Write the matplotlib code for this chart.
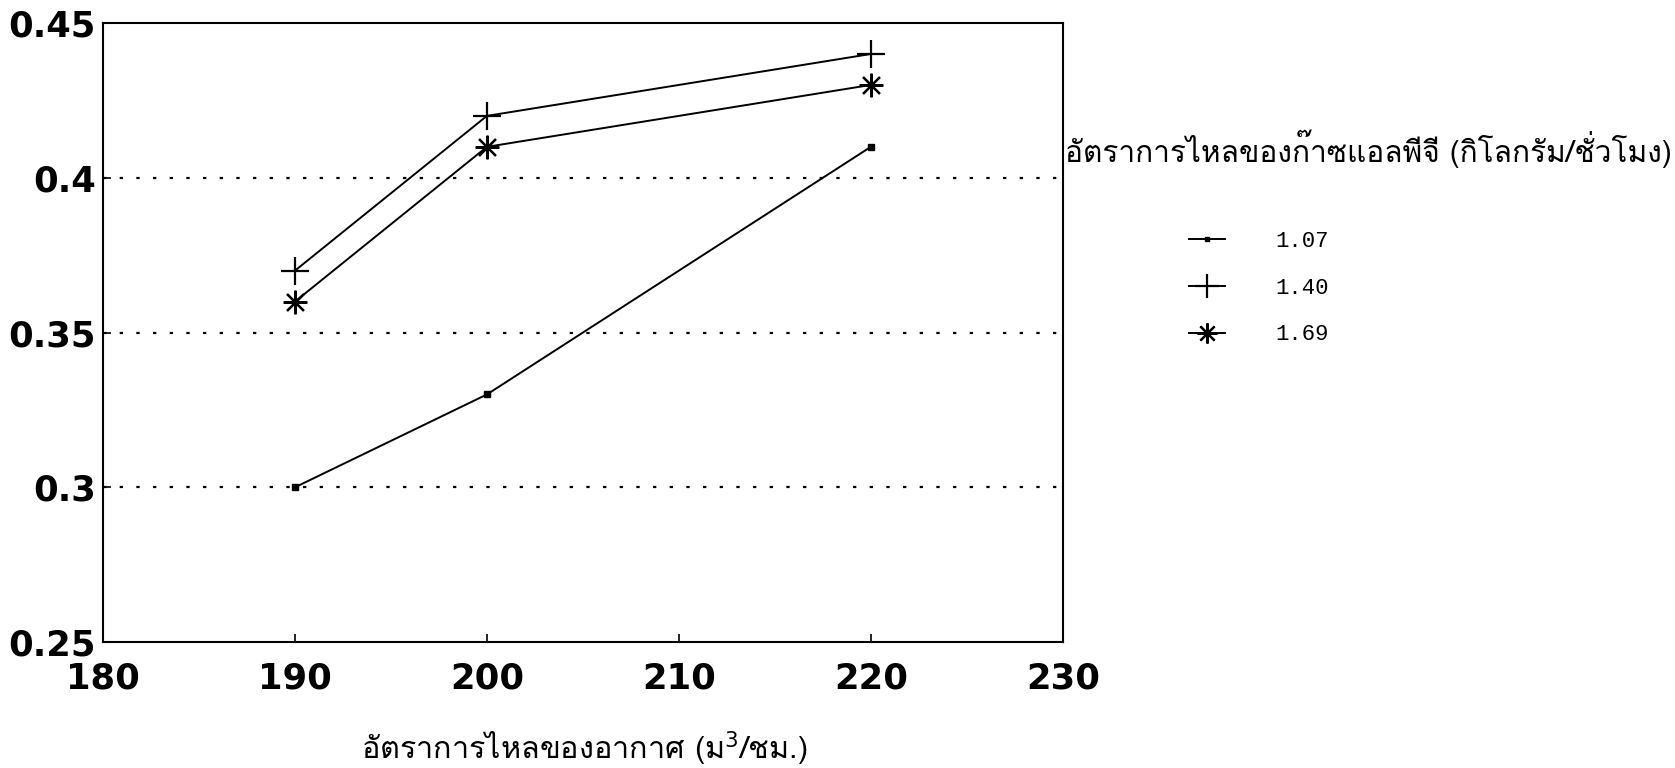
import matplotlib
matplotlib.use("Agg")
import matplotlib.pyplot as plt

# อัตราการไหลของอากาศ (m3/h)
air_flow = [190, 200, 220]

# อัตราการไหลของก๊าซแอลพีจี (kg/h)
lpg_labels = ["1.07", "1.40", "1.69"]
values_107 = [0.30, 0.33, 0.41]
values_140 = [0.37, 0.42, 0.44]
values_169 = [0.36, 0.41, 0.43]

x_ticks = [180, 190, 200, 210, 220, 230]
y_ticks = [0.25, 0.3, 0.35, 0.4, 0.45]
y_tick_labels = ["0.25", "0.3", "0.35", "0.4", "0.45"]

thai_font = ["Loma", "Noto Sans Thai Looped", "DejaVu Sans"]

fig = plt.figure(figsize=(16.75, 7.68), dpi=100)
ax = fig.add_axes([0.0615, 0.164, 0.573, 0.806])

ax.plot(air_flow, values_107, color="black", lw=1.4, marker="s", ms=4,
        label=lpg_labels[0])
ax.plot(air_flow, values_140, color="black", lw=1.4, marker="+", ms=20,
        mew=1.6, label=lpg_labels[1])
ax.plot(air_flow, values_169, color="black", lw=1.4, marker=(8, 2, 0), ms=17,
        mew=1.6, label=lpg_labels[2])

for y in [0.3, 0.35, 0.4]:
    ax.axhline(y, color="black", lw=1.6, ls=(0, (1.5, 6)), zorder=0)

ax.set_xlim(180, 230)
ax.set_ylim(0.25, 0.45)
ax.set_xticks(x_ticks)
ax.set_xticklabels([str(t) for t in x_ticks])
ax.set_yticks(y_ticks)
ax.set_yticklabels(y_tick_labels)
ax.tick_params(direction="in", length=6, width=1.2)
ax.tick_params(axis="x", pad=14)
ax.tick_params(axis="y", pad=5)
for lab in ax.get_xticklabels() + ax.get_yticklabels():
    lab.set_fontsize(25.5)
    lab.set_fontweight("bold")
    lab.set_family("DejaVu Sans")
for sp in ax.spines.values():
    sp.set_linewidth(1.5)

fig.text(0.349, 0.025, "อัตราการไหลของอากาศ (ม$^3$/ชม.)", ha="center",
         va="center", fontsize=22, family=thai_font)

fig.text(0.636, 0.806, "อัตราการไหลของก๊าซแอลพีจี (กิโลกรัม/ชั่วโมง)",
         ha="left", va="center", fontsize=21.5, family=thai_font)

leg = ax.legend(loc="upper left", bbox_to_anchor=(0.698, 0.725),
                bbox_transform=fig.transFigure, frameon=False,
                prop={"family": "Liberation Mono", "size": 16},
                handlelength=1.6, handletextpad=2.3, labelspacing=1.15,
                markerscale=0.85)

fig.savefig("out.png", dpi=100)
